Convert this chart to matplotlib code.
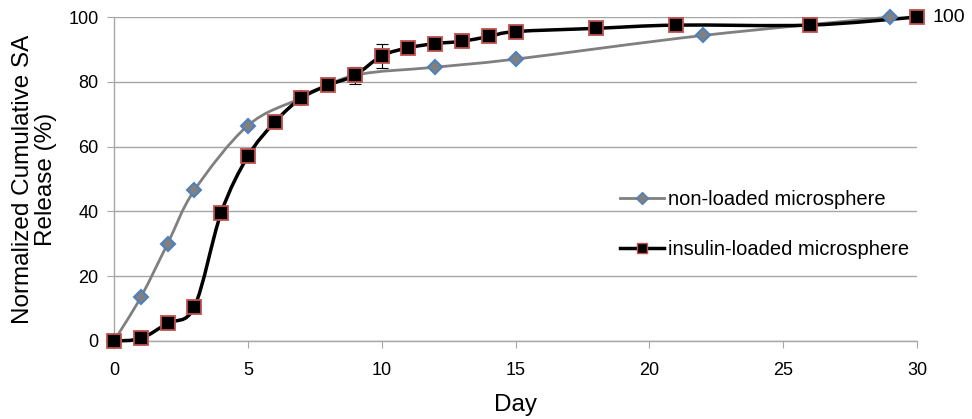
import numpy as np
import matplotlib
matplotlib.use("Agg")
import matplotlib.pyplot as plt
from matplotlib.path import Path
from matplotlib.patches import PathPatch
from matplotlib.lines import Line2D

# data
day_non = [0, 1, 2, 3, 5, 7, 9, 12, 15, 22, 29]
rel_non = [0, 13.5, 30, 46.5, 66.5, 75, 82, 84.5, 87, 94.3, 100]

day_ins = [0, 1, 2, 3, 4, 5, 6, 7, 8, 9, 10, 11, 12, 13, 14, 15, 18, 21, 26, 30]
rel_ins = [0, 0.8, 5.5, 10.5, 39.5, 57, 67.5, 75, 79, 82, 88, 90.5, 91.8, 92.5,
           94, 95.5, 96.5, 97.5, 97.5, 100]
err_ins = [0, 0, 0, 0, 0, 0, 0, 0, 0, 2.6, 3.7, 0, 0, 0, 0, 0, 0, 0, 0, 0]

labels = ["non-loaded microsphere", "insulin-loaded microsphere"]


def smooth_path(x, y):
    # catmull-rom style bezier, like the excel "smoothed line"
    pts = np.column_stack([x, y]).astype(float)
    verts = [pts[0]]
    codes = [Path.MOVETO]
    n = len(pts)
    for i in range(n - 1):
        p0 = pts[i - 1] if i > 0 else pts[i]
        p1 = pts[i]
        p2 = pts[i + 1]
        p3 = pts[i + 2] if i + 2 < n else pts[i + 1]
        c1 = p1 + (p2 - p0) / 6.0
        c2 = p2 - (p3 - p1) / 6.0
        verts += [c1, c2, p2]
        codes += [Path.CURVE4] * 3
    return Path(verts, codes)


grey = "#808080"
blue = "#4F81BD"
red = "#C0504D"

fig = plt.figure(figsize=(9.72, 4.19), dpi=100)
ax = fig.add_axes([0.1173, 0.1862, 0.8261, 0.7732])

ax.add_patch(PathPatch(smooth_path(day_non, rel_non), fill=False,
                       edgecolor=grey, lw=2.0, zorder=3, clip_on=False))
ax.add_patch(PathPatch(smooth_path(day_ins, rel_ins), fill=False,
                       edgecolor="black", lw=2.5, zorder=4, clip_on=False))

ax.errorbar(day_ins, rel_ins, yerr=err_ins, fmt="none", ecolor="black",
            elinewidth=0.8, capsize=4, capthick=0.8, zorder=3)

ax.plot(day_non, rel_non, ls="none", marker="D", ms=7.5, mfc=grey,
        mec=blue, mew=1.5, zorder=5, clip_on=False)
ax.plot(day_ins, rel_ins, ls="none", marker="s", ms=9.5, mfc="black",
        mec=red, mew=1.3, zorder=6, clip_on=False)

ax.annotate("100", (day_ins[-1], rel_ins[-1]), xytext=(11, 0),
            textcoords="offset points", va="center", ha="left",
            fontsize=14, family="Liberation Sans")

ax.set_xlim(0, 30)
ax.set_ylim(0, 100)
ax.set_xticks(np.arange(0, 31, 5))
ax.set_yticks(np.arange(0, 101, 20))
ax.grid(axis="y", color="#A6A6A6", lw=1.0)
ax.set_axisbelow(True)
for s in ["top", "right"]:
    ax.spines[s].set_visible(False)
for s in ["left", "bottom"]:
    ax.spines[s].set_color("#A6A6A6")
    ax.spines[s].set_linewidth(1.0)
ax.tick_params(axis="both", direction="out", color="#A6A6A6", length=5,
               labelsize=13, pad=6)
ax.tick_params(axis="x", pad=10)
for lab in ax.get_xticklabels() + ax.get_yticklabels():
    lab.set_family(["Liberation Sans Narrow", "Liberation Sans"])

ax.set_xlabel("Day", fontsize=17.5, family="Liberation Sans", labelpad=11)
ax.set_ylabel("Normalized Cumulative SA\nRelease (%)", fontsize=17.5,
              family="Liberation Sans", labelpad=8, linespacing=1.1)

handles = [
    Line2D([], [], color=grey, lw=2.0, marker="D", ms=6, mfc=grey, mec=blue),
    Line2D([], [], color="black", lw=2.5, marker="s", ms=7, mfc="black", mec=red),
]
ax.legend(handles, labels, loc="center left", bbox_to_anchor=(0.607, 0.36),
          frameon=False, prop={"family": "Liberation Sans", "size": 14.5},
          handlelength=2.2, handletextpad=0.2, labelspacing=1.55)

fig.savefig("out.png", dpi=100)
